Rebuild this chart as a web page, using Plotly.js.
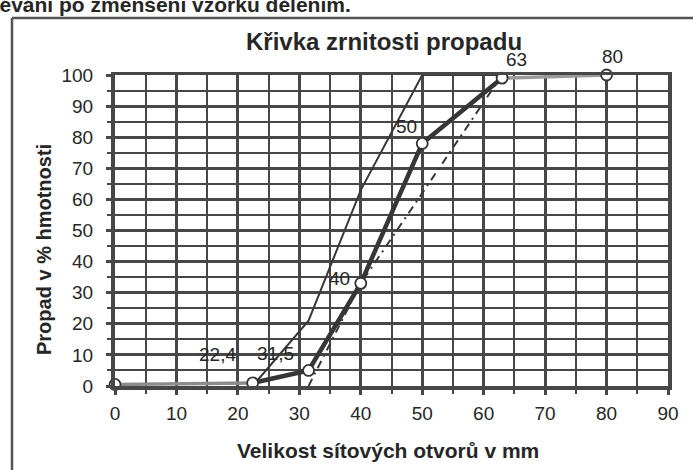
<!DOCTYPE html>
<html><head><meta charset="utf-8">
<script src="https://cdn.plot.ly/plotly-3.0.1.min.js"></script>
<style>html,body{margin:0;padding:0;background:#fff}#chart{width:693px;height:470px}</style>
</head><body><div id="chart"></div>
<script>
// Data
const sieveSizes = [0, 22.4, 31.5, 40, 50, 63, 80];
const passing = [0.5, 1, 5, 33, 78, 99, 100];
const pointLabels = ["", "22,4", "31,5", "40", "50", "63", "80"];
const upperLimitX = [22.4, 31.5, 40, 50, 63];
const upperLimitY = [0, 21, 63, 100, 100];
const lowerLimitX = [31.5, 40, 50, 63];
const lowerLimitY = [0, 33, 62, 100];
const xTickVals = [0, 10, 20, 30, 40, 50, 60, 70, 80, 90];
const yTickVals = [0, 10, 20, 30, 40, 50, 60, 70, 80, 90, 100];

const W = 693, H = 470, L = 115, R = 25, T = 75, B = 84;
const pw = W - L - R, ph = H - T - B;
const px = v => (v - L) / pw;
const py = v => (H - B - v) / ph;
const FONT = "Liberation Sans, Arial, sans-serif";
const INK = "#262626", GRID = "#474747";

const traces = [
  {x: upperLimitX, y: upperLimitY, mode: "lines", line: {color: "#383838", width: 2}, hoverinfo: "skip", cliponaxis: false},
  {x: lowerLimitX, y: lowerLimitY, mode: "lines", line: {color: "#383838", width: 2, dash: "8px,5px,2px,5px"}, hoverinfo: "skip", cliponaxis: false},
  {x: sieveSizes.slice(0, 2), y: passing.slice(0, 2), mode: "lines", line: {color: "#8c8c8c", width: 3.5}, hoverinfo: "skip", cliponaxis: false},
  {x: sieveSizes.slice(1, 6), y: passing.slice(1, 6), mode: "lines", line: {color: "#363636", width: 4.5}, hoverinfo: "skip", cliponaxis: false},
  {x: sieveSizes.slice(5), y: passing.slice(5), mode: "lines", line: {color: "#9a9a9a", width: 3.5}, hoverinfo: "skip", cliponaxis: false},
  {x: sieveSizes, y: passing, mode: "markers", marker: {symbol: "circle", size: 11, color: "#fff", line: {color: "#333", width: 1.8}}, hoverinfo: "skip", cliponaxis: false}
];

const labelShift = [[0,0],[-35,28],[-33,17],[-21,5],[-16,17],[14,19],[6,19]];
const annotations = [];
pointLabels.forEach((t, i) => {
  if (!t) return;
  annotations.push({x: sieveSizes[i], y: passing[i], xref: "x", yref: "y", text: t, showarrow: false,
    xshift: labelShift[i][0], yshift: labelShift[i][1], xanchor: "center", yanchor: "middle",
    font: {family: FONT, size: 19, color: INK}});
});
annotations.push({xref: "paper", yref: "paper", x: px(44), y: py(250), text: "Propad v % hmotnosti",
  textangle: -90, showarrow: false, xanchor: "center", yanchor: "middle",
  font: {family: FONT, size: 20, weight: 700, color: INK}});
annotations.push({xref: "paper", yref: "paper", x: px(388), y: py(450), text: "Velikost sítových otvorů v mm",
  showarrow: false, xanchor: "center", yanchor: "middle",
  font: {family: FONT, size: 21, weight: 700, color: INK}});
annotations.push({xref: "paper", yref: "paper", x: px(353), y: py(4), text: "prosévání po zmenšení vzorku dělením.",
  showarrow: false, xanchor: "right", yanchor: "middle",
  font: {family: FONT, size: 21, weight: 700, color: INK}});
annotations.push({xref: "paper", yref: "paper", x: px(384), y: py(42), text: "Křivka zrnitosti propadu",
  showarrow: false, xanchor: "center", yanchor: "middle",
  font: {family: FONT, size: 24, weight: 700, color: INK}});

const layout = {
  width: W, height: H,
  margin: {l: L, r: R, t: T, b: B, pad: 0},
  paper_bgcolor: "#fff", plot_bgcolor: "#fff",
  showlegend: false,
  xaxis: {range: [0, 90], tickvals: xTickVals, ticktext: xTickVals.map(String), showgrid: true,
    gridcolor: GRID, gridwidth: 3, zeroline: false, showline: true, linecolor: GRID, linewidth: 3.5, mirror: true,
    ticks: "outside", ticklen: 5, tickwidth: 3, tickcolor: GRID, ticklabelstandoff: 3,
    minor: {dtick: 5, showgrid: true, gridcolor: GRID, gridwidth: 2, ticks: "outside", ticklen: 4, tickwidth: 2, tickcolor: GRID},
    tickfont: {family: FONT, size: 19, color: INK}, fixedrange: true},
  yaxis: {range: [0, 100], tickvals: yTickVals, ticktext: yTickVals.map(String), showgrid: true,
    gridcolor: GRID, gridwidth: 3, zeroline: false, showline: true, linecolor: GRID, linewidth: 4, mirror: true,
    ticks: "outside", ticklen: 5, tickwidth: 3, tickcolor: GRID, ticklabelstandoff: 9,
    minor: {dtick: 5, showgrid: true, gridcolor: GRID, gridwidth: 2, ticks: "outside", ticklen: 4, tickwidth: 2, tickcolor: GRID},
    tickfont: {family: FONT, size: 19, color: INK}, fixedrange: true},
  annotations: annotations,
  shapes: [
    {type: "line", xref: "paper", yref: "paper", x0: px(12), x1: px(700), y0: py(18), y1: py(18), line: {color: "#555", width: 2.5}},
    {type: "line", xref: "paper", yref: "paper", x0: px(12), x1: px(12), y0: py(18), y1: py(480), line: {color: "#555", width: 2.5}}
  ]
};

Plotly.newPlot("chart", traces, layout, {staticPlot: true, displayModeBar: false});
</script></body></html>
